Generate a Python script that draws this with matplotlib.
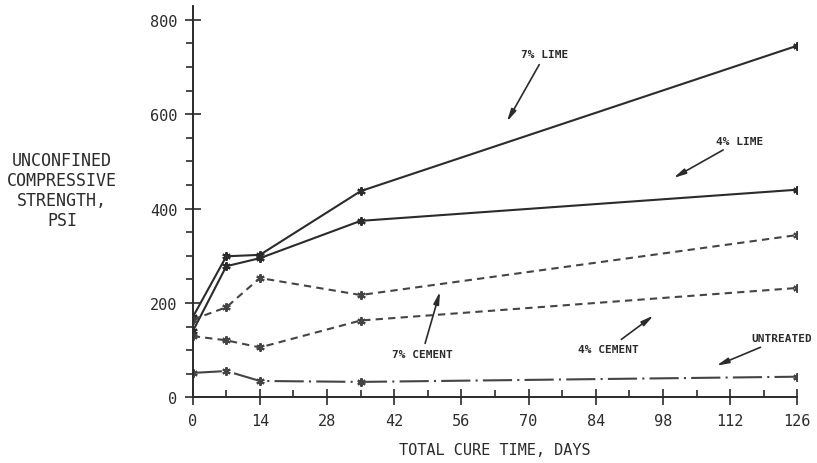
import matplotlib.pyplot as plt
from matplotlib.ticker import MultipleLocator

# cure time (days) and unconfined compressive strength (psi)
days = [0, 7, 14, 35, 126]
lime7 = [170, 299, 302, 437, 745]
lime4 = [140, 278, 295, 374, 440]
cement7 = [165, 191, 253, 217, 344]
cement4 = [130, 121, 106, 163, 232]
untreated = [52, 56, 35, 33, 44]

x_ticks = [0, 14, 28, 42, 56, 70, 84, 98, 112, 126]
y_ticks = [0, 200, 400, 600, 800]

plt.rcParams['font.family'] = ['DejaVu Sans Mono']
ink = '#2b2b2b'

fig = plt.figure(figsize=(8.17, 4.64), dpi=100)
ax = fig.add_axes([0.2359, 0.1412, 0.740, 0.8142 * 830 / 800])

mk = dict(marker=(6, 2, 0), markersize=6, markeredgewidth=1.5, lw=1.5)
ax.plot(days, lime7, ls='-', color=ink, **mk)
ax.plot(days, lime4, ls='-', color=ink, **mk)
ax.plot(days, cement7, ls=(0, (3.5, 2.5)), color='#444444', **mk)
ax.plot(days, cement4, ls=(0, (3.5, 2.5)), color='#444444', **mk)
ax.plot(days, untreated, ls=(0, (14, 2.5, 1, 2.5)), color='#444444', **mk)

ax.set_xlim(0, 126)
ax.set_ylim(0, 830)
ax.set_xticks(x_ticks)
ax.set_yticks(y_ticks)
ax.xaxis.set_minor_locator(MultipleLocator(7))
ax.yaxis.set_minor_locator(MultipleLocator(50))
ax.tick_params(which='major', direction='inout', length=12, width=1.2, colors=ink,
               labelsize=11, pad=5)
ax.tick_params(axis='y', which='minor', direction='out', length=5, width=1.2, colors=ink)
ax.tick_params(axis='x', which='minor', direction='in', length=5, width=1.2, colors=ink)
for s in ['top', 'right']:
    ax.spines[s].set_visible(False)
for s in ['left', 'bottom']:
    ax.spines[s].set_linewidth(1.4)
    ax.spines[s].set_color(ink)

ax.set_xlabel('TOTAL CURE TIME, DAYS', fontsize=11, color=ink, labelpad=10)
ax.text(-0.216, 0.53, 'UNCONFINED\nCOMPRESSIVE\nSTRENGTH,\nPSI', transform=ax.transAxes,
        ha='center', va='center', fontsize=12, color=ink, linespacing=1.15)

arrow = dict(arrowstyle='-|>,head_length=0.9,head_width=0.2', color=ink, lw=1.2)
ann = dict(fontsize=8, fontweight='bold', color=ink)
ax.annotate('7% LIME', xy=(65.2, 579), xytext=(68.5, 716), ha='left', va='bottom',
            arrowprops=arrow, **ann)
ax.annotate('4% LIME', xy=(99.7, 462), xytext=(109, 533), ha='left', va='bottom',
            arrowprops=arrow, **ann)
ax.annotate('7% CEMENT', xy=(51.7, 230), xytext=(47.8, 103), ha='center', va='top',
            arrowprops=arrow, **ann)
ax.annotate('4% CEMENT', xy=(96.5, 177), xytext=(93, 103), ha='right', va='center',
            arrowprops=arrow, **ann)
ax.annotate('UNTREATED', xy=(108.6, 65), xytext=(116.4, 125), ha='left', va='center',
            arrowprops=arrow, **ann)

fig.savefig('out.png', dpi=100)
